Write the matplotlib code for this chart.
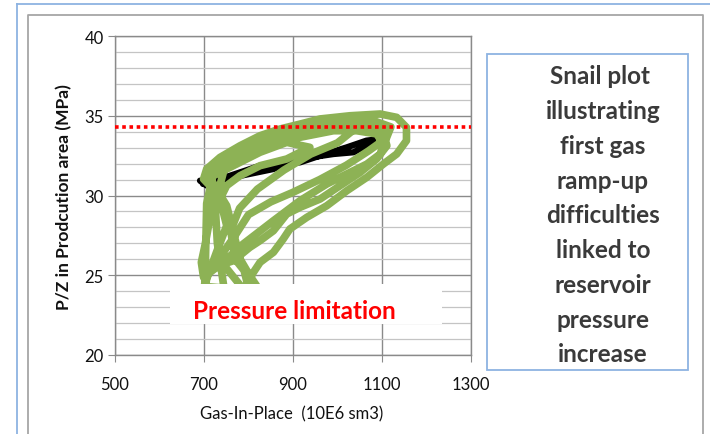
import matplotlib.pyplot as plt
from matplotlib.patches import Rectangle
from matplotlib.lines import Line2D

plt.rcParams['font.family'] = ['Lato', 'DejaVu Sans']

# ---- data ----
# black trace (first cycle)
black_x = [691, 706, 736, 826, 863, 916, 961, 1021, 1065, 1095,
           1036, 991, 916, 856, 766, 698]
black_y = [30.93, 30.62, 31.03, 31.87, 31.97, 32.08, 32.50, 33.02, 33.44, 33.54,
           32.71, 32.60, 32.29, 31.66, 31.14, 30.72]

# green snail trace
green_x = [796, 811, 826, 856, 878, 893, 931, 976, 1021, 1066,
           1103, 1133, 1155, 1155, 1133, 1096, 1028, 961, 916, 871,
           826, 781, 736, 706, 699, 713, 721, 713, 702, 694,
           699, 743, 788, 856, 916, 976, 1021, 1066, 1096, 1103,
           1088, 1043, 991, 916, 856, 811, 766, 728, 713, 728,
           751, 766, 781, 803, 818, 788, 743, 766, 803, 826,
           856, 886, 916, 961, 1006, 1051, 1088, 1111, 1103, 1066,
           991, 916, 841, 781, 736, 721, 766, 826, 886, 938,
           886, 826, 781, 751, 736, 751, 728, 706, 702,
           706, 720, 760, 820, 900, 1000, 1080, 1120, 1110, 1070,
           1020, 960, 900, 850, 800, 770, 740, 710, 700,
           745, 730, 725, 745, 800, 870, 960, 1040, 1000, 940,
           880, 820, 780, 760, 770, 790, 800]
green_y = [24.45, 25.18, 25.81, 26.44, 27.27, 27.90, 28.63, 29.36, 30.30, 31.14,
           31.97, 32.60, 33.44, 34.27, 34.90, 35.11, 35.00, 34.80, 34.48, 34.17,
           33.75, 33.12, 32.39, 31.66, 31.03, 30.62, 29.78, 28.53, 26.85, 25.81,
           24.87, 25.81, 26.96, 28.42, 29.68, 30.72, 31.35, 31.97, 32.60, 33.23,
           33.86, 34.06, 34.06, 33.65, 33.33, 33.02, 32.29, 31.66, 31.14, 30.41,
           29.36, 27.69, 26.02, 24.97, 24.35, 24.14, 25.70, 25.91, 26.75, 27.17,
           27.79, 28.84, 29.26, 29.78, 30.62, 31.45, 32.29, 33.12, 33.96, 34.38,
           34.38, 33.96, 33.33, 32.71, 31.87, 31.24, 31.87, 32.71, 33.33, 33.02,
           32.29, 31.87, 31.24, 30.62, 29.78, 28.11, 26.44, 24.76, 24.14,
           29.5, 31.3, 32.6, 33.5, 34.2, 34.6, 34.7, 34.3, 33.6, 32.8,
           31.9, 31.0, 30.2, 29.6, 28.8, 27.5, 26.3, 25.2, 24.3,
           24.2, 27.0, 29.5, 31.6, 32.9, 33.9, 34.4, 34.2, 33.3, 32.6,
           31.6, 30.4, 29.2, 27.8, 26.0, 25.3, 24.2]

pressure_limit = 34.3
x_ticks = [500, 700, 900, 1100, 1300]
y_ticks = [20, 25, 30, 35, 40]

note_lines = ["Snail plot ", "illustrating", "first gas", "ramp-up", "difficulties",
              "linked to", "reservoir", "pressure", "increase"]

W, H = 710, 435
fig = plt.figure(figsize=(W / 100, H / 100), dpi=100)


def fx(px):
    return px / W


def fy(py):
    return 1 - py / H


# outer frames
fig.add_artist(Line2D([fx(17), fx(17)], [fy(5), 0], color='#8db3e2', lw=1.3))
fig.add_artist(Line2D([fx(17), 1], [fy(5), fy(5)], color='#8db3e2', lw=1.3))
fig.add_artist(Line2D([fx(28), fx(28), fx(703), fx(703)], [0, fy(16), fy(16), 0],
                      color='#a6a6a6', lw=1.3))

ax = fig.add_axes([fx(115), fy(356), 356 / W, 319 / H])
ax.set_xlim(500, 1300)
ax.set_ylim(20, 40)
ax.set_xticks(x_ticks)
ax.set_yticks(y_ticks)
ax.set_yticks(range(20, 41), minor=True)
ax.grid(which='major', color='#8a8a8a', lw=1.0)
ax.grid(which='minor', axis='y', color='#c4c4c4', lw=0.9)
ax.set_axisbelow(True)
for s in ax.spines.values():
    s.set_color('#8a8a8a')
    s.set_linewidth(1.0)
ax.tick_params(which='major', direction='out', length=5, color='#8a8a8a',
               labelsize=12, labelcolor='#111111')
ax.tick_params(axis='x', pad=10)
ax.tick_params(axis='y', pad=3)
ax.tick_params(which='minor', length=0)

ax.plot(black_x, black_y, color='black', lw=4.5, solid_joinstyle='round',
        solid_capstyle='round', zorder=2)
ax.plot(green_x, green_y, color='#8db255', lw=5.5, solid_joinstyle='round',
        solid_capstyle='round', zorder=3)
ax.axhline(pressure_limit, color='#ff0000', lw=2.6, dashes=(1, 1),
           dash_capstyle='butt', zorder=4)

ax.add_patch(Rectangle((624, 21.94), 610, 2.51, facecolor='white',
                       edgecolor='none', zorder=5))
ax.text(902, 22.8, "Pressure limitation", color='#ff0000', fontsize=17.5,
        fontweight='bold', ha='center', va='center', zorder=6)

fig.text(fx(64), fy(197), "P/Z in Prodcution area (MPa)", rotation=90,
         fontsize=12.5, fontweight='bold', ha='center', va='center', color='#111111')
fig.text(fx(292), fy(414), "Gas-In-Place  (10E6 sm3)", fontsize=12,
         ha='center', va='center', color='#111111')

# note box
fig.add_artist(Rectangle((fx(487), fy(371)), 201 / W, 316 / H, transform=fig.transFigure,
                         facecolor='white', edgecolor='#8db3e2', lw=1.3))
for i, line in enumerate(note_lines):
    fig.text(fx(603), fy(77 + i * 34.75), line, fontsize=17.5, fontweight='bold',
             ha='center', va='center', color='#3a3a3a')

fig.savefig('out.png', dpi=100)
